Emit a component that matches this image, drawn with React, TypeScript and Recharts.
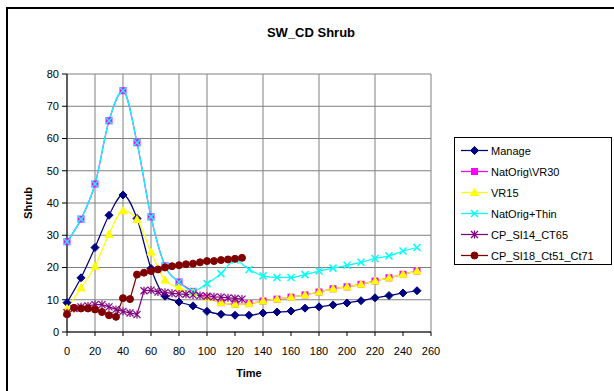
import React from "react";
import { LineChart, Line, XAxis, YAxis, CartesianGrid, Legend } from "recharts";

// time steps
const decadeTimes = [0, 10, 20, 30, 40, 50, 60, 70, 80, 90, 100, 110, 120, 130, 140, 150, 160, 170, 180, 190, 200, 210, 220, 230, 240, 250];
const fiveYearTimes = [0, 5, 10, 15, 20, 25, 30, 35, 40, 45, 50, 55, 60, 65, 70, 75, 80, 85, 90, 95, 100, 105, 110, 115, 120, 125];

// series values
const manage = [9.1, 16.8, 26.2, 36.2, 42.5, 35.2, 19.7, 11.1, 9.3, 8.1, 6.4, 5.5, 5.2, 5.2, 5.9, 6.2, 6.5, 7.4, 7.8, 8.4, 9.0, 9.7, 10.6, 11.3, 12.1, 12.8];
const natOrigVR30 = [28, 35, 45.9, 65.5, 74.8, 58.7, 35.7, 20.5, 15.5, 12.6, 10.7, 9.1, 8.6, 8.8, 9.6, 10.2, 10.8, 11.5, 12.4, 13.4, 14.0, 14.8, 15.8, 16.8, 17.9, 18.9];
const vr15 = [7.3, 13.7, 20.4, 30.3, 37.6, 34.9, 24.8, 16.1, 13.7, 12.2, 10.7, 9.1, 8.6, 8.8, 9.6, 10.2, 10.8, 11.5, 12.4, 13.4, 14.0, 14.8, 15.8, 16.8, 17.9, 18.9];
const natOrigThin = [28, 35, 45.9, 65.5, 74.8, 58.7, 35.7, 20.5, 15.5, 12.6, 15.0, 18.1, 22.3, 19.4, 17.4, 16.9, 16.9, 17.8, 18.9, 19.8, 20.7, 21.6, 22.8, 23.6, 25.1, 26.2];
const cpSI14 = [6.0, 7.3, 7.8, 8.1, 8.5, 8.5, 7.8, 7.0, 6.4, 5.9, 5.4, 12.8, 13.0, 12.4, 12.3, 12.0, 11.8, 11.7, 11.5, 11.3, 11.1, 10.9, 10.8, 10.6, 10.4, 10.2];
const cpSI18 = [5.5, 7.5, 7.3, 7.3, 7.0, 6.2, 5.2, 4.7, 10.5, 10.2, 17.8, 18.4, 18.9, 19.4, 20.0, 20.4, 20.7, 21.0, 21.2, 21.6, 22.0, 22.0, 22.3, 22.5, 22.7, 23.0];

// axis ticks
const xTicks = [0, 20, 40, 60, 80, 100, 120, 140, 160, 180, 200, 220, 240, 260];
const yTicks = [0, 10, 20, 30, 40, 50, 60, 70, 80];

const FONT = "Arial, 'Liberation Sans', sans-serif";

type MarkerKind = "diamond" | "square" | "triangle" | "cross" | "star" | "circle";

const toPoints = (times: number[], values: number[]) =>
  times.map((t, i) => ({ t, v: values[i] }));

const series = [
  { name: "Manage", color: "#000080", marker: "diamond" as MarkerKind, smooth: true, data: toPoints(decadeTimes, manage) },
  { name: "NatOrig\\VR30", color: "#FF00FF", marker: "square" as MarkerKind, smooth: true, data: toPoints(decadeTimes, natOrigVR30) },
  { name: "VR15", color: "#FFFF00", marker: "triangle" as MarkerKind, smooth: true, data: toPoints(decadeTimes, vr15) },
  { name: "NatOrig+Thin", color: "#00FFFF", marker: "cross" as MarkerKind, smooth: true, data: toPoints(decadeTimes, natOrigThin) },
  { name: "CP_SI14_CT65", color: "#800080", marker: "star" as MarkerKind, smooth: false, data: toPoints(fiveYearTimes, cpSI14) },
  { name: "CP_SI18_Ct51_Ct71", color: "#800000", marker: "circle" as MarkerKind, smooth: false, data: toPoints(fiveYearTimes, cpSI18) },
];

const Marker = ({ kind, cx, cy, color }: { kind: MarkerKind; cx: number; cy: number; color: string }) => {
  switch (kind) {
    case "diamond":
      return <polygon points={`${cx},${cy - 4} ${cx + 4},${cy} ${cx},${cy + 4} ${cx - 4},${cy}`} fill={color} stroke={color} />;
    case "square":
      return <rect x={cx - 3} y={cy - 3} width={6} height={6} fill={color} stroke={color} />;
    case "triangle":
      return <polygon points={`${cx},${cy - 4} ${cx + 4},${cy + 3} ${cx - 4},${cy + 3}`} fill={color} stroke={color} />;
    case "cross":
      return (
        <g stroke={color} strokeWidth={1.5}>
          <line x1={cx - 3.5} y1={cy - 3.5} x2={cx + 3.5} y2={cy + 3.5} />
          <line x1={cx - 3.5} y1={cy + 3.5} x2={cx + 3.5} y2={cy - 3.5} />
        </g>
      );
    case "star":
      return (
        <g stroke={color} strokeWidth={1.2}>
          <line x1={cx - 3.5} y1={cy - 3.5} x2={cx + 3.5} y2={cy + 3.5} />
          <line x1={cx - 3.5} y1={cy + 3.5} x2={cx + 3.5} y2={cy - 3.5} />
          <line x1={cx} y1={cy - 4} x2={cx} y2={cy + 4} />
        </g>
      );
    default:
      return <circle cx={cx} cy={cy} r={3.5} fill={color} stroke={color} />;
  }
};

// Excel-style boxed legend
const LegendBox = () => (
  <div style={{ paddingTop: 2, fontFamily: FONT, fontSize: 11 }}>
    {series.map((s) => (
      <div key={s.name} style={{ height: 21, display: "flex", alignItems: "center" }}>
        <svg width={36} height={21} style={{ flexShrink: 0 }}>
          <line x1={6} y1={10.5} x2={33} y2={10.5} stroke={s.color} strokeWidth={1.25} />
          <Marker kind={s.marker} cx={19.5} cy={10.5} color={s.color} />
        </svg>
        <span style={{ color: "#000", whiteSpace: "nowrap" }}>{s.name}</span>
      </div>
    ))}
  </div>
);

const App = () => {
  return (
    <div style={{ position: "absolute", left: 0, top: 0, width: 614, height: 391, background: "#fff", overflow: "hidden" }}>
      {/* outer chart frame */}
      <div
        style={{
          position: "absolute",
          left: 6,
          top: 7,
          width: 640,
          height: 420,
          borderLeft: "2px solid #000",
          borderTop: "2px solid #000",
        }}
      />

      <div style={{ position: "absolute", left: 0, top: 0 }}>
        <LineChart width={614} height={391} margin={{ top: 74, right: 183, bottom: 29, left: 27 }}>
          <CartesianGrid stroke="#808080" strokeWidth={1} />

          <XAxis
            dataKey="t"
            type="number"
            domain={[0, 260]}
            ticks={xTicks}
            allowDuplicatedCategory={false}
            stroke="#000"
            tickSize={4}
            tickMargin={11}
            height={30}
            tick={{ fontSize: 11, fill: "#000", fontFamily: FONT }}
          />

          <YAxis
            dataKey="v"
            type="number"
            domain={[0, 80]}
            ticks={yTicks}
            stroke="#000"
            tickSize={5}
            tickMargin={3}
            width={40}
            tick={{ fontSize: 11, fill: "#000", fontFamily: FONT }}
          />

          <Legend
            layout="vertical"
            align="center"
            verticalAlign="middle"
            content={<LegendBox />}
            wrapperStyle={{
              left: 454,
              top: 137,
              width: 158,
              height: 128,
              border: "1px solid #000",
              background: "#fff",
              boxSizing: "border-box",
            }}
          />

          {series.map((s) => (
            <Line
              key={s.name}
              data={s.data}
              dataKey="v"
              name={s.name}
              type={s.smooth ? "monotone" : "linear"}
              stroke={s.color}
              strokeWidth={1.25}
              isAnimationActive={false}
              activeDot={false}
              dot={(p: any) => (
                <Marker key={`${s.name}-${p.index}`} kind={s.marker} cx={p.cx} cy={p.cy} color={s.color} />
              )}
            />
          ))}
        </LineChart>
      </div>

      {/* title and axis titles */}
      <div
        style={{
          position: "absolute",
          left: 311,
          top: 32,
          transform: "translate(-50%, -50%)",
          fontFamily: FONT,
          fontSize: 13,
          fontWeight: "bold",
          whiteSpace: "nowrap",
        }}
      >
        SW_CD Shrub
      </div>
      <div
        style={{
          position: "absolute",
          left: 249,
          top: 373,
          transform: "translate(-50%, -50%)",
          fontFamily: FONT,
          fontSize: 11,
          fontWeight: "bold",
        }}
      >
        Time
      </div>
      <div
        style={{
          position: "absolute",
          left: 28,
          top: 203,
          transform: "translate(-50%, -50%) rotate(-90deg)",
          fontFamily: FONT,
          fontSize: 11,
          fontWeight: "bold",
        }}
      >
        Shrub
      </div>
    </div>
  );
};

export default App;
